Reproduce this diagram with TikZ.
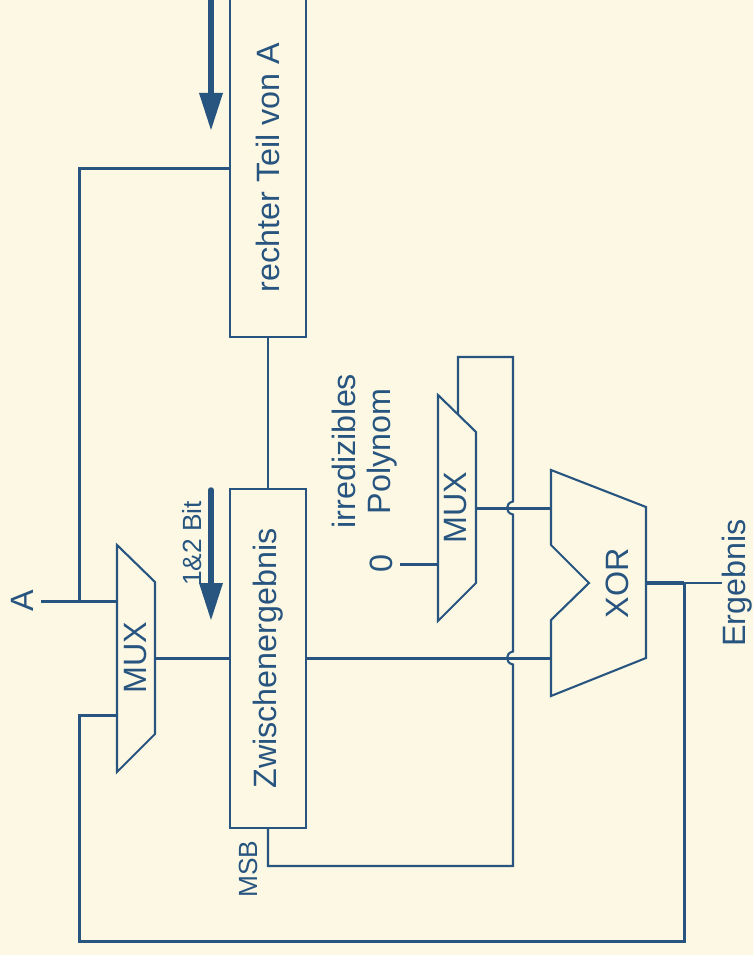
\documentclass[tikz,border=0pt]{standalone}
\usepackage{fontspec}
\setmainfont{Liberation Sans}
\definecolor{ink}{HTML}{27557F}
\definecolor{paper}{HTML}{FDF8E4}
\usetikzlibrary{arrows.meta}
\tikzset{
  thinw/.style={draw=ink,line width=2.1pt},
  thickw/.style={draw=ink,line width=3pt},
  regbox/.style={draw=ink,line width=2.1pt,fill=paper,minimum width=76pt,inner sep=0pt},
  lbl/.style={text=ink,rotate=90,inner sep=0pt,font=\fontsize{32.3}{34}\selectfont},
  small/.style={text=ink,rotate=90,inner sep=0pt,font=\fontsize{26.3}{28}\selectfont},
  flow/.style={draw=ink,line width=5.5pt,-{Triangle[length=37pt,width=24pt,inset=0pt,line width=0pt]}},
}
\begin{document}
\begin{tikzpicture}[x=1pt,y=-1pt]
\useasboundingbox (0,0) rectangle (753,955);
\clip (0,0) rectangle (753,955);
\fill[paper] (0,0) rectangle (753,955);
% coordinates
\coordinate (a1) at (211,-5); \coordinate (a2) at (211,130);
\coordinate (b1) at (211,490); \coordinate (b2) at (211,620);
\coordinate (rL) at (230,168); \coordinate (turn) at (79,168);
\coordinate (aend) at (41,601.5); \coordinate (m1a) at (117,601.5); \coordinate (aj) at (79,601.5);
\coordinate (m1b) at (117,715); \coordinate (fb1) at (79,715); \coordinate (fb2) at (79,941); \coordinate (fb3) at (684,941);
\coordinate (m1o) at (155,658); \coordinate (zL) at (230,658); \coordinate (zR) at (306,658);
\coordinate (xb) at (551,658); \coordinate (xa) at (551,508); \coordinate (m2o) at (476,508);
\coordinate (xo) at (646,583); \coordinate (xj) at (684,583); \coordinate (xe) at (722,583);
\coordinate (zero) at (400,564); \coordinate (m2a) at (438,564);
\coordinate (m2b) at (458,414); \coordinate (t1) at (458,357); \coordinate (t2) at (513,357);
\coordinate (t3) at (513,866); \coordinate (t4) at (268,866);
% boxes
\node[regbox,minimum height=342pt] (rt) at (268,166) {};
\node[regbox,minimum height=339pt] (zw) at (268,658.5) {};
\draw[thinw] (rt.south) -- (zw.north);
% shapes
\draw[thinw,fill=paper,line join=miter] (117,545) -- (155,582) -- (155,734) -- (117,772) -- cycle;
\draw[thinw,fill=paper,line join=miter] (438,395) -- (476,432) -- (476,583) -- (438,621) -- cycle;
\draw[thinw,fill=paper,line join=miter] (551,470) -- (646,507) -- (646,658) -- (551,696) -- (551,620) -- (589,583) -- (551,545) -- cycle;
% wires
\draw[thickw] (rL) -- (turn) -- (aj);
\draw[thickw] (aend) -- (m1a);
\draw[thickw] (m1b) -- (fb1) -- (fb2) -- (fb3) -- (xj);
\draw[thickw] (m1o) -- (zL);
\draw[thickw] (zR) -- (xb);
\draw[thickw] (m2o) -- (xa);
\draw[thickw] (zero) -- (m2a);
\draw[draw=ink,line width=4pt] (xo) -- (xj);
\draw[draw=ink,line width=2.6pt] (xj) -- (xe);
\draw[thinw,line join=miter] (m2b) -- (t1) -- (t2) -- (513,501.5)
  .. controls (505,503) and (505,513) .. (513,514.5) -- (513,651.5)
  .. controls (505,653) and (505,663) .. (513,664.5) -- (t3) -- (t4) -- (zw.south);
% flow arrows
\draw[flow] (a1) -- (a2);
\draw[flow,line cap=round] (b1) -- (b2);
% labels
\node[lbl] (l1) at (268,167.5) {rechter Teil von A};
\node[lbl] (l2) at (268,658.5) {Zwischenergebnis};
\node[lbl] (l3) at (135.5,658) {MUX};
\node[lbl] (l4) at (455.5,508) {MUX};
\node[lbl] (l5) at (617,583) {XOR};
\node[lbl] (l6) at (22,601) {A};
\node[small] (l7) at (192,543.5) {1\&2 Bit};
\node[small] (l8) at (248,869) {MSB};
\node[lbl] (l9) at (344,451) {irredizibles};
\node[lbl] (l10) at (382,451.5) {Polynom};
\node[lbl] (l11) at (381,564) {0};
\node[lbl] (l12) at (737.5,583) {Ergebnis};
\end{tikzpicture}
\end{document}
